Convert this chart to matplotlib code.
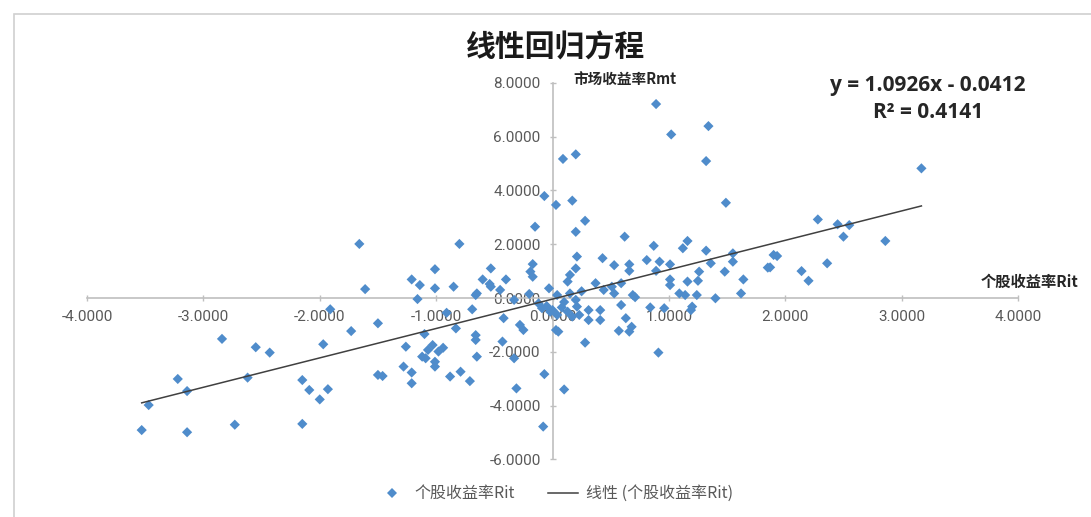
import matplotlib
matplotlib.use("Agg")
import matplotlib.pyplot as plt
from matplotlib.patches import Rectangle
from matplotlib.lines import Line2D
import numpy as np

plt.rcParams['font.family'] = ['Noto Sans CJK SC', 'DejaVu Sans']

# ---- data ----
stock_x = [
    -3.53, -3.47, -3.22, -3.14, -3.14, -2.84, -2.73, -2.62, -2.55, -2.43,
    -2.15, -2.09, -2.15, -2.00, -1.97, -1.93, -1.91, -1.66, -1.61, -1.73,
    -1.50, -1.46, -1.50,
    -0.80, -1.01, -1.21, -1.14, -1.01, -0.85, -1.16, -0.66, -0.69, -0.91,
    -0.83, -1.10, -1.26, -1.03, -1.07, -0.98, -1.12, -1.01, -1.01, -0.66,
    -0.66, -1.28, -1.21, -1.21, -0.88, -0.79, -0.71, -0.65, -0.94, -1.09,
    -0.53, -0.60, -0.40, -0.17, -0.19, -0.17, -0.65, -0.53, -0.45, -0.33,
    -0.42, -0.28, -0.25, -0.43, -0.33, -0.07, -0.31, -0.08, 0.10, 0.28,
    -0.03, 0.04, -0.09, -0.02, 0.04, 0.03, 0.05, 0.13, 0.15, 0.20,
    0.21, 0.15, 0.20, 0.21, 0.13, 0.17, 0.23, 0.31, 0.41, 0.37,
    0.43, 0.44, -0.54, -0.15, -0.07, 0.03, 0.17, 0.28, 0.20, 0.09,
    0.20, 0.31, 0.41, -0.12, -0.05, 0.08, 0.10, 0.00, 0.25, -0.20,
    0.89, 1.02, 1.34, 1.32, 1.49, 0.62, 0.87, 1.12, 1.16, 1.32,
    1.55, 0.81, 0.92, 0.53, 0.66, 0.66, 0.89, 1.01, 1.36, 1.55,
    1.48, 1.26, 1.64, 1.01, 1.01, 1.16, 1.25, 0.51, 0.59, 0.53,
    0.69, 0.71, 1.09, 1.14, 1.24, 1.40, 1.62, 1.85, 0.59, 0.84,
    0.96, 0.63, 1.19, 1.20, 0.68, 0.57, 0.66, 0.91,
    3.17, 2.28, 2.45, 2.55, 2.50, 2.86, 1.90, 1.93, 1.87, 2.36,
    2.14, 2.20,
]
market_y = [
    -4.91, -3.98, -3.01, -3.46, -4.99, -1.52, -4.71, -2.96, -1.83, -2.03,
    -3.05, -3.42, -4.68, -3.77, -1.72, -3.39, -0.42, 2.01, 0.33, -1.23,
    -2.86, -2.90, -0.94,
    2.01, 1.07, 0.69, 0.48, 0.36, 0.42, -0.04, 0.11, -0.42, -0.55,
    -1.13, -1.34, -1.81, -1.75, -1.93, -1.99, -2.18, -2.37, -2.55, -1.38,
    -1.56, -2.55, -2.77, -3.17, -2.92, -2.74, -3.09, -2.18, -1.85, -2.24,
    1.10, 0.69, 0.69, 1.26, 0.98, 0.79, 0.17, 0.42, 0.30, -0.07,
    -0.75, -1.00, -1.19, -1.62, -2.24, -2.83, -3.36, -4.78, -3.40, -1.66,
    0.36, 0.11, -0.38, -0.51, -0.63, -1.19, -1.25, 0.61, 0.86, 1.10,
    1.54, 0.17, -0.07, -0.32, -0.51, -0.69, -0.63, -0.82, -0.82, 0.55,
    1.48, 0.30, 0.52, 2.65, 3.79, 3.46, 3.62, 2.87, 2.46, 5.17,
    5.34, -0.45, -0.45, -0.20, -0.30, -0.35, -0.15, -0.45, 0.25, 0.15,
    7.21, 6.08, 6.39, 5.09, 3.54, 2.28, 1.94, 1.85, 2.12, 1.76,
    1.66, 1.41, 1.35, 1.22, 1.25, 1.01, 1.01, 1.25, 1.29, 1.35,
    0.98, 0.98, 0.69, 0.69, 0.48, 0.61, 0.64, 0.42, 0.55, 0.17,
    0.11, 0.03, 0.17, 0.11, 0.11, -0.01, 0.17, 1.13, -0.26, -0.35,
    -0.38, -0.75, -0.45, -0.32, -1.07, -1.22, -1.25, -2.03,
    4.82, 2.92, 2.74, 2.71, 2.28, 2.12, 1.60, 1.56, 1.14, 1.29,
    1.00, 0.64,
]
trend_slope = 1.0926
trend_intercept = -0.0412
r_squared = 0.4141

x_ticks = [-4, -3, -2, -1, 0, 1, 2, 3, 4]
y_ticks = [-6, -4, -2, 0, 2, 4, 6, 8]

title_text = "线性回归方程"
x_title = "个股收益率Rit"
y_title = "市场收益率Rmt"
series_name = "个股收益率Rit"
trend_name = "线性 (个股收益率Rit)"

# ---- figure ----
W, H = 1091, 517
fig = plt.figure(figsize=(W / 100, H / 100), dpi=100)

def fx(px):
    return px / W

def fy(py):
    return 1 - py / H

# chart area border (top & left visible)
fig.patches.append(Rectangle((fx(14), fy(600)), 2.0, fy(14) - fy(600),
                             transform=fig.transFigure, fill=False,
                             edgecolor='#d0d0d0', linewidth=1.2))

ax = fig.add_axes([fx(87), fy(459.4), fx(1018) - fx(87), fy(82.8) - fy(459.4)])
ax.set_xlim(-4, 4)
ax.set_ylim(-6, 8)

point_color = '#4f8ccb'
trend_color = '#404040'
ax.scatter(stock_x, market_y, marker='D', s=27, color=point_color,
           edgecolors='none', zorder=3)

xs = np.array([min(stock_x), max(stock_x)])
ax.plot(xs, trend_slope * xs + trend_intercept, color=trend_color,
        lw=1.1, zorder=4)

for side in ['top', 'right']:
    ax.spines[side].set_visible(False)
ax.spines['left'].set_position(('data', 0))
ax.spines['bottom'].set_position(('data', 0))
for side in ['left', 'bottom']:
    ax.spines[side].set_color('#bfbfbf')
    ax.spines[side].set_linewidth(1.2)

ax.set_xticks(x_ticks)
ax.set_yticks(y_ticks)
ax.set_xticklabels([f"{v:.4f}" for v in x_ticks])
ax.set_yticklabels([f"{v:.4f}" for v in y_ticks])
ax.tick_params(axis='both', direction='inout', length=5, width=1,
               color='#bfbfbf', labelcolor='#595959', labelsize=11,
               labelfontfamily='Roboto', pad=6)
ax.patch.set_alpha(0)

# titles
fig.text(fx(556), fy(47), title_text, ha='center', va='center',
         fontsize=21.5, color='#1a1a1a', fontweight='bold')
fig.text(fx(573), fy(80), y_title, ha='left', va='center',
         fontsize=10.5, color='#262626', fontweight='bold')
fig.text(fx(1078), fy(282), x_title, ha='right', va='center',
         fontsize=11, color='#262626', fontweight='bold')

# trendline equation
eq_family = ['Open Sans', 'DejaVu Sans']
fig.text(fx(928), fy(86), f"y = {trend_slope:.4f}x - {abs(trend_intercept):.4f}",
         ha='center', va='center', fontsize=15, fontweight='bold',
         color='#262626', family=eq_family)
fig.text(fx(928), fy(113), f"R² = {r_squared:.4f}",
         ha='center', va='center', fontsize=15, fontweight='bold',
         color='#262626', family=eq_family)

# legend (placed manually)
fig.add_artist(Line2D([fx(392)], [fy(493)], marker='D', linestyle='none',
                      markersize=5, color=point_color, markeredgewidth=0,
                      transform=fig.transFigure))
fig.text(fx(414), fy(493), series_name, ha='left', va='center',
         fontsize=11.5, color='#595959')
fig.add_artist(Line2D([fx(548), fx(578)], [fy(493), fy(493)],
                      color=trend_color, lw=1.1, transform=fig.transFigure))
fig.text(fx(586), fy(493), trend_name, ha='left', va='center',
         fontsize=11.5, color='#595959')

fig.savefig('out.png', dpi=100, facecolor='white')
